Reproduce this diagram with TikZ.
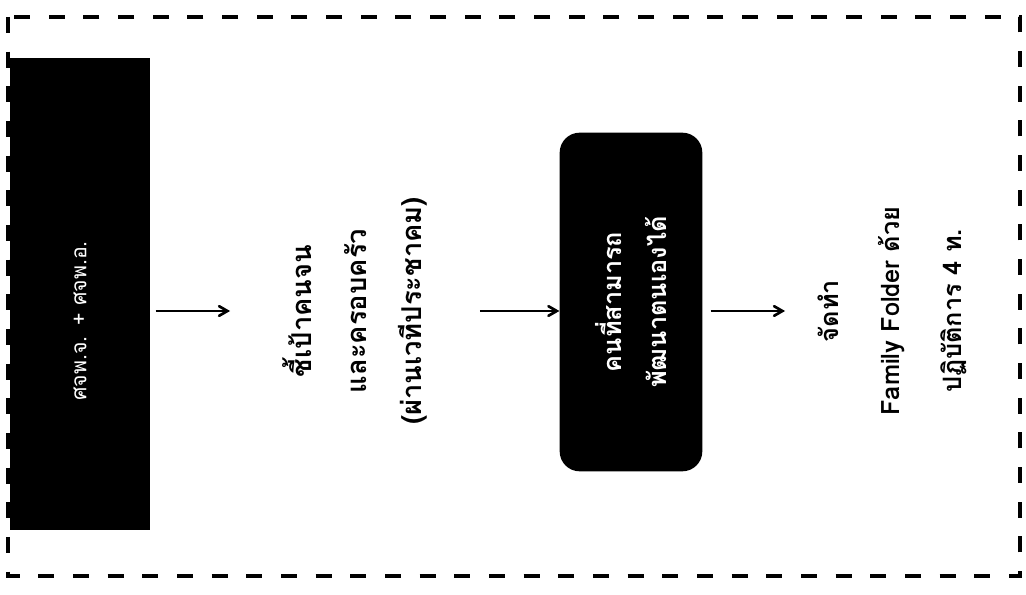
\documentclass[tikz,border=0pt]{standalone}
\usepackage{fontspec}
\setmainfont{Liberation Sans}
\newfontfamily\thaifont[Script=Thai]{Loma}
\usetikzlibrary{arrows}

\begin{document}
\begin{tikzpicture}[x=0.75pt,y=-0.75pt,>=angle 60,
  every node/.style={rotate=90,align=center,inner sep=0pt},
  blk/.style={fill=black,text=white},
  txt/.style={font=\thaifont\bfseries\fontsize{20.5}{41}\selectfont},
  arr/.style={->,line width=2pt}]
\useasboundingbox (0,0) rectangle (1026,595);

% frame
\draw[line width=2.8pt,dash pattern=on 12pt off 14pt] (8,17) rectangle (1020,576);

\node[blk,font=\thaifont\fontsize{16}{20}\selectfont,minimum width=354pt,minimum height=105pt,text width=160pt,align=left] (cmte) at (80,294) {ศจพ.จ. + ศจพ.อ.};
\node[txt,minimum height=187pt] (poor) at (355,311) {ชี้เป้าคนจน\\และครอบครัว\\(ผ่านเวทีประชาคม)};
\node[blk,txt,rounded corners=15pt,minimum width=254pt,minimum height=107pt,font=\thaifont\bfseries\fontsize{19}{34}\selectfont] (self) at (631,302) {คนที่สามารถ\\พัฒนาตนเองได้};
\node[txt,minimum height=160pt,font=\thaifont\bfseries\fontsize{19}{46}\selectfont] (fold) at (892,311) {จัดทำ\\Family Folder ด้วย\\ปฏิบัติการ 4 ท.};

\draw[arr,shorten <=4pt] (cmte.south |- poor) -- (poor);
\draw[arr] (poor) -- (self.north |- poor);
\draw[arr,shorten <=6pt] (self.south |- fold) -- (fold);
\end{tikzpicture}
\end{document}
